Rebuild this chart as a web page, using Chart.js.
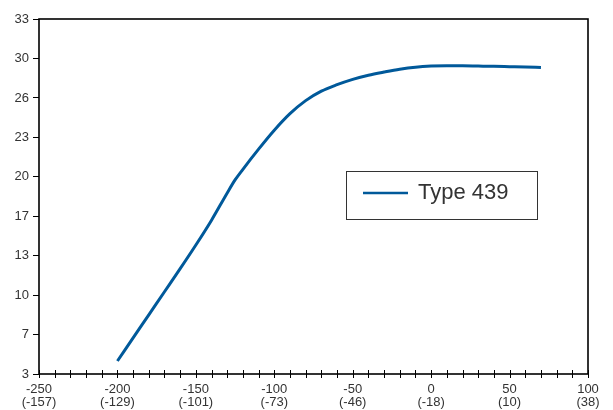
<!DOCTYPE html>
<html>
<head>
<meta charset="utf-8">
<script src="https://cdn.jsdelivr.net/npm/chart.js@4/dist/chart.umd.min.js"></script>
<style>
  html, body { margin: 0; padding: 0; background: #fff; }
  #wrap { width: 613px; height: 410px; }
</style>
</head>
<body>
<div id="wrap"><canvas id="chart" width="613" height="410"></canvas></div>
<script>
// Series
const xValues = [-200, -190, -180, -170, -160, -150, -140, -130, -125, -120, -110, -100, -90, -80, -70, -60, -50, -40, -30, -20, -10, 0, 10, 20, 30, 40, 50, 60, 70];
const yValues = [4.1, 6.05, 8.0, 9.95, 11.9, 13.9, 16.0, 18.3, 19.4, 20.3, 22.0, 23.6, 25.0, 26.1, 26.9, 27.45, 27.9, 28.25, 28.52, 28.76, 28.93, 29.02, 29.05, 29.04, 29.02, 29.0, 28.97, 28.94, 28.9];
const seriesName = 'Type 439';

// Axis ticks
const yTickValues = [3, 6.33, 9.67, 13, 16.33, 19.67, 23, 26.33, 29.67, 33];
const yTickLabels = ['3', '7', '10', '13', '17', '20', '23', '26', '30', '33'];
const xMajorValues = [-250, -200, -150, -100, -50, 0, 50, 100];
const xMajorLabels = ['-250', '-200', '-150', '-100', '-50', '0', '50', '100'];
const xSubLabels = ['(-157)', '(-129)', '(-101)', '(-73)', '(-46)', '(-18)', '(10)', '(38)'];

const lineColor = '#00599a';
const textColor = '#333333';

// frame around the plot + x tick marks that cross the axis
const framePlugin = {
  id: 'frame',
  afterDraw(chart) {
    const { ctx, chartArea: a } = chart;
    const xs = chart.scales.x;
    ctx.save();
    ctx.strokeStyle = '#000';
    ctx.lineWidth = 1;
    xs.ticks.forEach(t => {
      const px = Math.round(xs.getPixelForValue(t.value)) + 0.5;
      ctx.beginPath();
      ctx.moveTo(px, a.bottom - 4);
      ctx.lineTo(px, a.bottom + 4);
      ctx.stroke();
    });
    ctx.lineWidth = 1.6;
    ctx.strokeRect(a.left, a.top, a.right - a.left, a.bottom - a.top);
    ctx.restore();
  }
};

// legend box placed inside the plot
const boxLegend = {
  id: 'boxLegend',
  afterDraw(chart) {
    const { ctx, chartArea: a } = chart;
    const ds = chart.data.datasets[0];
    const bx = a.left + 307, by = a.top + 152, bw = 191, bh = 48;
    ctx.save();
    ctx.strokeStyle = '#333';
    ctx.lineWidth = 1;
    ctx.strokeRect(bx + 0.5, by + 0.5, bw, bh);
    ctx.strokeStyle = ds.borderColor;
    ctx.lineWidth = 2.5;
    ctx.beginPath();
    ctx.moveTo(bx + 17, by + 22);
    ctx.lineTo(bx + 62, by + 22);
    ctx.stroke();
    ctx.fillStyle = textColor;
    ctx.font = '22px "Liberation Sans", Arial, sans-serif';
    ctx.textBaseline = 'middle';
    ctx.fillText(ds.label, bx + 72, by + 22);
    ctx.restore();
  }
};

new Chart(document.getElementById('chart'), {
  type: 'line',
  data: {
    datasets: [{
      label: seriesName,
      data: xValues.map((x, i) => ({ x: x, y: yValues[i] })),
      borderColor: lineColor,
      borderWidth: 3,
      pointRadius: 0,
      fill: false,
      cubicInterpolationMode: 'monotone'
    }]
  },
  options: {
    responsive: false,
    animation: false,
    layout: { padding: { top: 19, right: 25, left: 0, bottom: 0 } },
    plugins: {
      legend: { display: false },
      tooltip: { enabled: false }
    },
    scales: {
      x: {
        type: 'linear',
        min: -250,
        max: 100,
        grid: { display: false, drawTicks: false, tickLength: 0 },
        border: { display: false },
        afterBuildTicks: (scale) => {
          const t = [];
          for (let v = -250; v <= 100; v += 10) t.push({ value: v });
          scale.ticks = t;
        },
        afterFit: (scale) => { scale.height = 36; },
        ticks: {
          autoSkip: false,
          maxRotation: 0,
          padding: 9,
          color: textColor,
          font: { family: '"Liberation Sans", Arial, sans-serif', size: 13, lineHeight: 1.0 },
          callback: (value) => {
            const i = xMajorValues.indexOf(value);
            return i < 0 ? '' : [xMajorLabels[i], xSubLabels[i]];
          }
        }
      },
      y: {
        type: 'linear',
        min: 3,
        max: 33,
        grid: { drawOnChartArea: false, drawTicks: true, tickLength: 6, color: '#000' },
        border: { display: false },
        afterBuildTicks: (scale) => {
          scale.ticks = yTickValues.map(v => ({ value: v }));
        },
        afterFit: (scale) => { scale.width = 39; },
        ticks: {
          padding: 4,
          color: textColor,
          font: { family: '"Liberation Sans", Arial, sans-serif', size: 13 },
          callback: (value) => {
            const i = yTickValues.indexOf(value);
            return i < 0 ? '' : yTickLabels[i];
          }
        }
      }
    }
  },
  plugins: [framePlugin, boxLegend]
});
</script>
</body>
</html>
